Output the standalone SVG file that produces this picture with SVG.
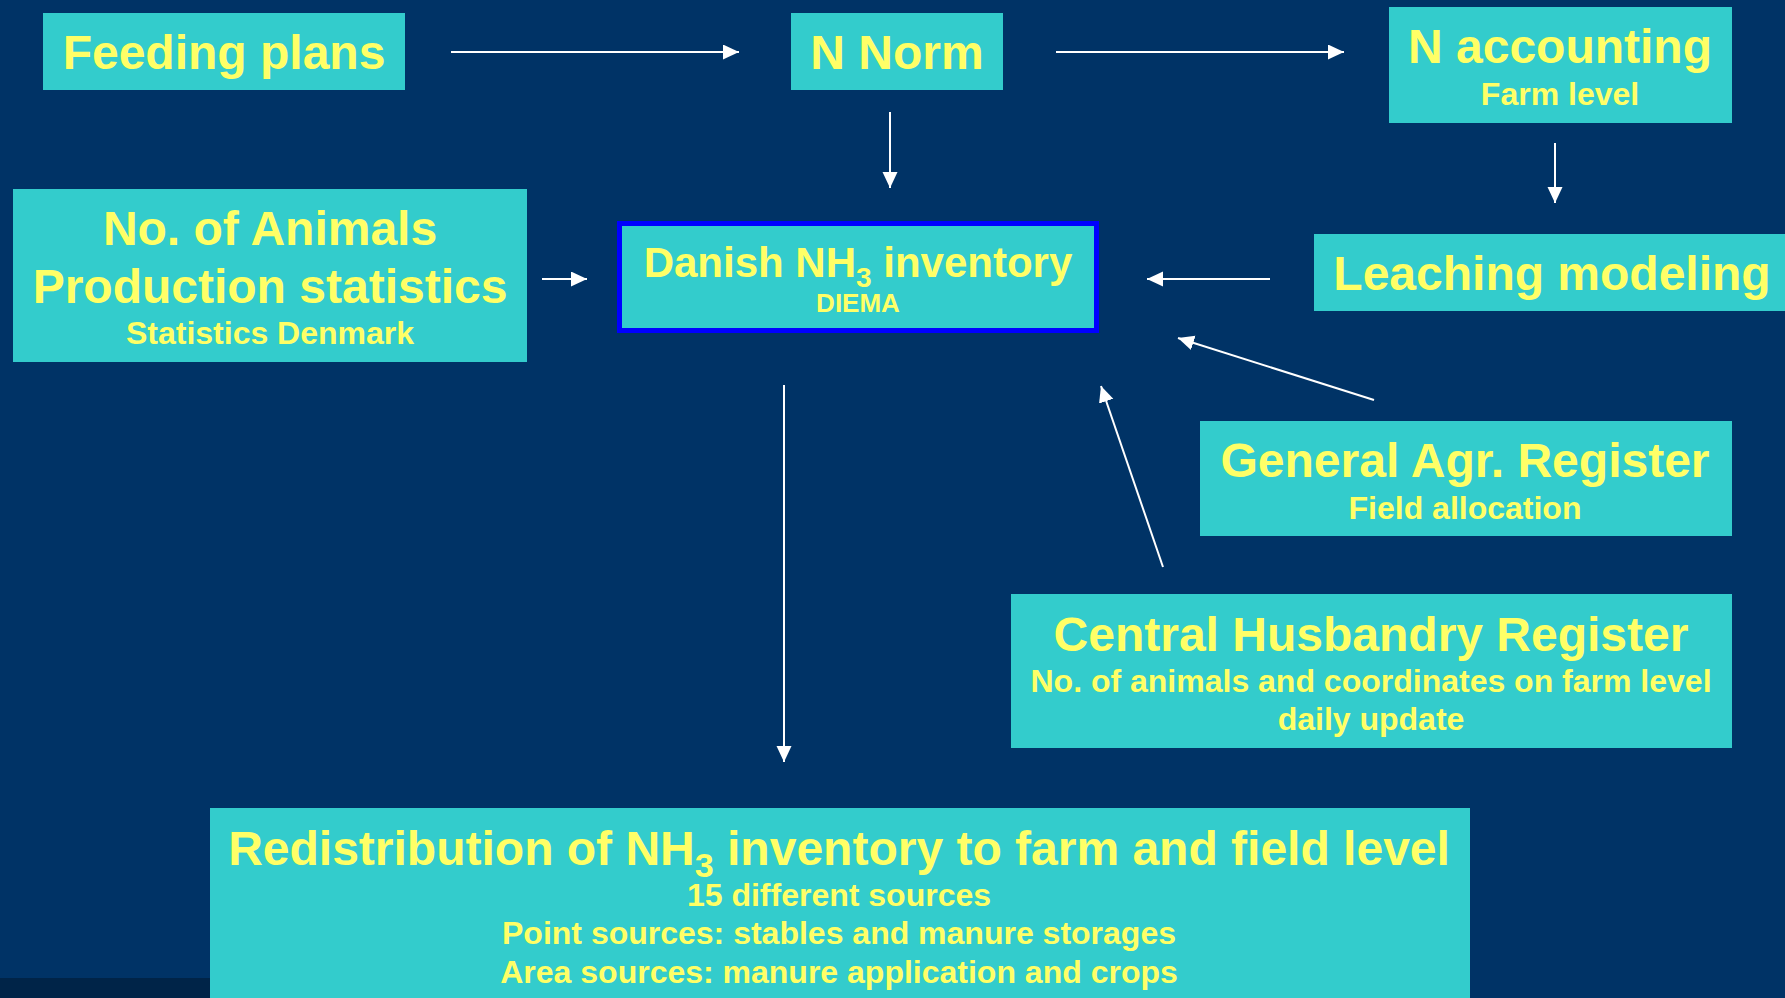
<svg xmlns="http://www.w3.org/2000/svg" width="1785" height="998" viewBox="0 0 1785 998">
<defs>
<style>
.box{fill:#33CCCC}
.t{font-family:"Liberation Sans",Arial,sans-serif;font-weight:bold;fill:#FFFF66;text-anchor:middle}
.big{font-size:48px}
.mid{font-size:42px}
.sm{font-size:32px}
.xs{font-size:26px}
.c{stroke:#FFFFFF;stroke-width:2;fill:none}
</style>
<marker id="ah" markerUnits="userSpaceOnUse" markerWidth="18" markerHeight="16" refX="16" refY="7.5" orient="auto">
<path d="M0,0 L16,7.5 L0,15 Z" fill="#FFFFFF"/>
</marker>
</defs>
<rect x="0" y="0" width="1785" height="998" fill="#003366"/>
<rect x="0" y="978" width="210" height="20" fill="#002448"/>
<g id="connectors">
<line class="c" x1="451" y1="52" x2="739" y2="52" marker-end="url(#ah)"/>
<line class="c" x1="1056" y1="52" x2="1344" y2="52" marker-end="url(#ah)"/>
<line class="c" x1="890" y1="112" x2="890" y2="188" marker-end="url(#ah)"/>
<line class="c" x1="1555" y1="143" x2="1555" y2="203" marker-end="url(#ah)"/>
<line class="c" x1="542" y1="279" x2="587" y2="279" marker-end="url(#ah)"/>
<line class="c" x1="1270" y1="279" x2="1147" y2="279" marker-end="url(#ah)"/>
<line class="c" x1="1374" y1="400" x2="1178" y2="338" marker-end="url(#ah)"/>
<line class="c" x1="1163" y1="567" x2="1101" y2="386" marker-end="url(#ah)"/>
<line class="c" x1="784" y1="385" x2="784" y2="762" marker-end="url(#ah)"/>
</g>
<g id="feeding-plans">
<rect class="box" x="43" y="13" width="362" height="77"/>
<text class="t big" x="224" y="69">Feeding plans</text>
</g>
<g id="n-norm">
<rect class="box" x="791" y="13" width="212" height="77"/>
<text class="t big" x="897" y="69">N Norm</text>
</g>
<g id="n-accounting">
<rect class="box" x="1389" y="7" width="343" height="116"/>
<text class="t big" x="1560" y="63">N accounting</text>
<text class="t sm" x="1560" y="105">Farm level</text>
</g>
<g id="no-of-animals">
<rect class="box" x="13" y="189" width="514" height="173"/>
<text class="t big" x="270" y="245">No. of Animals</text>
<text class="t big" x="270" y="303">Production statistics</text>
<text class="t sm" x="270" y="344">Statistics Denmark</text>
</g>
<g id="danish-nh3">
<rect class="box" x="619.5" y="223.5" width="477" height="107" stroke="#0000FF" stroke-width="5"/>
<text class="t mid" x="858" y="277">Danish NH<tspan font-size="28" dy="10">3</tspan><tspan dy="-10"> inventory</tspan></text>
<text class="t xs" x="858" y="312">DIEMA</text>
</g>
<g id="leaching-modeling">
<rect class="box" x="1314" y="234" width="480" height="77"/>
<text class="t big" x="1552" y="290">Leaching modeling</text>
</g>
<g id="general-agr-register">
<rect class="box" x="1200" y="421" width="532" height="115"/>
<text class="t big" x="1465" y="477">General Agr. Register</text>
<text class="t sm" x="1465" y="519">Field allocation</text>
</g>
<g id="central-husbandry-register">
<rect class="box" x="1011" y="594" width="721" height="154"/>
<text class="t big" x="1371" y="651">Central Husbandry Register</text>
<text class="t sm" x="1371" y="692">No. of animals and coordinates on farm level</text>
<text class="t sm" x="1371" y="730">daily update</text>
</g>
<g id="redistribution">
<rect class="box" x="210" y="808" width="1260" height="195"/>
<text class="t big" x="839" y="865">Redistribution of NH<tspan font-size="34" dy="12">3</tspan><tspan dy="-12"> inventory to farm and field level</tspan></text>
<text class="t sm" x="839" y="906">15 different sources</text>
<text class="t sm" x="839" y="944">Point sources: stables and manure storages</text>
<text class="t sm" x="839" y="983">Area sources: manure application and crops</text>
</g>
</svg>
